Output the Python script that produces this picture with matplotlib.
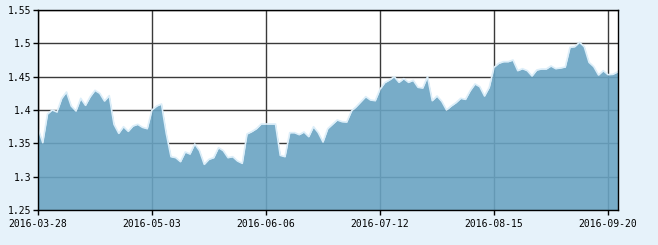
import matplotlib.pyplot as plt
import numpy as np

# one value per trading day, 2016-03-28 .. 2016-09-22
nav = [1.3725, 1.351, 1.394, 1.400, 1.397, 1.4175, 1.427, 1.406, 1.3985, 1.4175,
       1.407, 1.420, 1.4295, 1.425, 1.4135, 1.4215, 1.3785, 1.365, 1.375, 1.368,
       1.376, 1.3785, 1.374, 1.372, 1.400, 1.406, 1.409, 1.365, 1.330, 1.3285,
       1.3225, 1.337, 1.334, 1.349, 1.339, 1.3185, 1.326, 1.3285, 1.3435, 1.339,
       1.3285, 1.330, 1.3235, 1.320, 1.364, 1.3675, 1.372, 1.379, 1.379, 1.379,
       1.379, 1.332, 1.330, 1.366, 1.366, 1.363, 1.367, 1.360, 1.375, 1.366,
       1.352, 1.372, 1.3785, 1.385, 1.3825, 1.382, 1.3985, 1.405, 1.4125, 1.420,
       1.415, 1.414, 1.431, 1.441, 1.445, 1.450, 1.4415, 1.447, 1.4415, 1.4445,
       1.434, 1.433, 1.450, 1.414, 1.421, 1.413, 1.400, 1.406, 1.411, 1.4175,
       1.416, 1.429, 1.439, 1.435, 1.421, 1.434, 1.464, 1.470, 1.4725, 1.4725,
       1.475, 1.459, 1.462, 1.459, 1.451, 1.460, 1.4615, 1.4615, 1.466, 1.462,
       1.463, 1.4645, 1.494, 1.495, 1.5015, 1.495, 1.4715, 1.465, 1.4525, 1.459,
       1.453, 1.4535, 1.457]

tick_pos = [0, 24, 48, 72, 96, 120]
tick_labels = ['2016-03-28', '2016-05-03', '2016-06-06',
               '2016-07-12', '2016-08-15', '2016-09-20']
y_ticks = [1.25, 1.3, 1.35, 1.4, 1.45, 1.5, 1.55]
y_labels = ['1.25', '1.3', '1.35', '1.4', '1.45', '1.5', '1.55']

x = np.arange(len(nav))

fig = plt.figure(figsize=(6.58, 2.45), dpi=100)
fig.patch.set_facecolor('#e6f2fa')
ax = fig.add_axes([38/658, 1 - 210/245, 580/658, 200/245])
ax.set_facecolor('white')

ax.fill_between(x, 1.25, nav, color='#69a3c2', alpha=0.9, lw=0, zorder=2)
ax.plot(x, nav, color='#dceef9', lw=1.2, zorder=3)

ax.set_xlim(0, len(nav) - 1 + 0.1)
ax.set_ylim(1.25, 1.55)
ax.set_xticks(tick_pos)
ax.set_xticklabels(tick_labels)
ax.set_yticks(y_ticks)
ax.set_yticklabels(y_labels)

ax.set_axisbelow(True)
ax.grid(True, color='#3a3a3a', lw=1)
for s in ax.spines.values():
    s.set_color('black')
    s.set_linewidth(1)
    s.set_zorder(4)

ax.tick_params(length=3.5, width=1, color='black', labelsize=7, labelcolor='black')
ax.tick_params(axis='x', pad=3)
ax.tick_params(axis='y', pad=1)
for lab in ax.get_xticklabels() + ax.get_yticklabels():
    lab.set_family('DejaVu Sans Mono')

fig.savefig('out.png', dpi=100, facecolor=fig.get_facecolor())
